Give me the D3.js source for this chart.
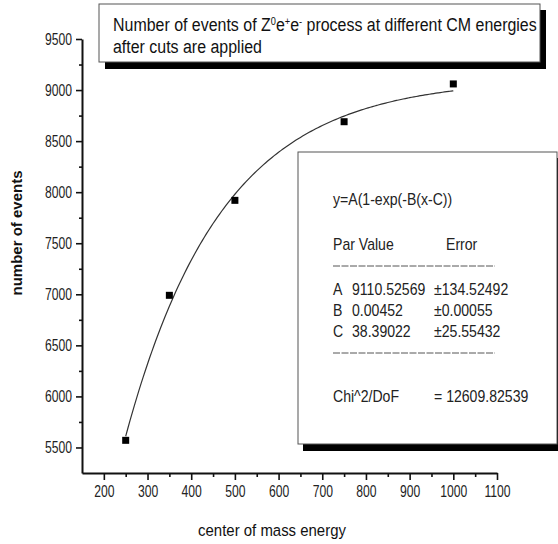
<!DOCTYPE html>
<html>
<head>
<meta charset="utf-8">
<script src="https://cdn.jsdelivr.net/npm/d3@7"></script>
<style>
  html, body { margin: 0; padding: 0; background: #fff; }
  svg { display: block; font-family: "Liberation Sans", Arial, sans-serif; }
</style>
</head>
<body>
<svg id="chart" width="558" height="544"></svg>
<script>
// Measured event counts at each centre-of-mass energy
const energies = [250, 350, 500, 750, 1000];
const eventCounts = [5570, 6990, 7920, 8690, 9060];

// Axis ticks
const xMajorTicks = [200, 300, 400, 500, 600, 700, 800, 900, 1000, 1100];
const xMinorTicks = [250, 350, 450, 550, 650, 750, 850, 950, 1050];
const yMajorTicks = [5500, 6000, 6500, 7000, 7500, 8000, 8500, 9000, 9500];
const yMinorTicks = [5750, 6250, 6750, 7250, 7750, 8250, 8750, 9250];

// Fit parameters for y = A(1 - exp(-B(x - C)))
const fitNames = ["A", "B", "C"];
const fitValues = [9110.52569, 0.00452, 38.39022];
const fitValueText = ["9110.52569", "0.00452", "38.39022"];
const fitErrorText = ["\u00b1134.52492", "\u00b10.00055", "\u00b125.55432"];
const chiText = "= 12609.82539";
const fitRange = [250, 1000];

const svg = d3.select("#chart");

const x = d3.scaleLinear().domain([150, 1100]).range([82, 497]);
const y = d3.scaleLinear().domain([5250, 9500]).range([473, 39]);

const tickSX = 0.76;
const boxSX = 0.88;

// Minor ticks
svg.append("g")
  .attr("transform", "translate(0,473)")
  .call(d3.axisBottom(x).tickValues(xMinorTicks).tickSize(4).tickSizeOuter(0).tickFormat(""))
  .call(g => g.select(".domain").remove())
  .call(g => g.selectAll("line").attr("stroke", "#111").attr("stroke-width", 1.6));
svg.append("g")
  .attr("transform", "translate(82,0)")
  .call(d3.axisLeft(y).tickValues(yMinorTicks).tickSize(3).tickSizeOuter(0).tickFormat(""))
  .call(g => g.select(".domain").remove())
  .call(g => g.selectAll("line").attr("stroke", "#111").attr("stroke-width", 1.6));

// Major axes
const xAxis = svg.append("g")
  .attr("transform", "translate(0,473)")
  .call(d3.axisBottom(x).tickValues(xMajorTicks).tickFormat(d3.format("d"))
    .tickSize(7).tickSizeOuter(0).tickPadding(6));
xAxis.select(".domain").attr("stroke", "#111").attr("stroke-width", 2);
xAxis.selectAll("line").attr("stroke", "#111").attr("stroke-width", 1.6);
xAxis.selectAll("text")
  .attr("font-family", "Liberation Sans, Arial, sans-serif")
  .attr("font-size", 16)
  .attr("fill", "#222")
  .attr("transform", `scale(${tickSX},1)`);

const yAxis = svg.append("g")
  .attr("transform", "translate(82,0)")
  .call(d3.axisLeft(y).tickValues(yMajorTicks).tickFormat(d3.format("d"))
    .tickSize(6).tickSizeOuter(0).tickPadding(4));
yAxis.select(".domain").attr("stroke", "#111").attr("stroke-width", 2);
yAxis.selectAll("line").attr("stroke", "#111").attr("stroke-width", 1.6);
yAxis.selectAll("text")
  .attr("font-family", "Liberation Sans, Arial, sans-serif")
  .attr("font-size", 16)
  .attr("fill", "#222")
  .attr("x", -10 / tickSX)
  .attr("transform", `scale(${tickSX},1)`);

// Axis titles
svg.append("text")
  .attr("transform", `translate(22,233) rotate(-90)`)
  .attr("text-anchor", "middle")
  .attr("font-size", 15)
  .attr("font-weight", "bold")
  .attr("fill", "#111")
  .text("number of events");

svg.append("text")
  .attr("transform", `translate(272,536) scale(0.88,1)`)
  .attr("text-anchor", "middle")
  .attr("font-size", 17)
  .attr("fill", "#111")
  .text("center of mass energy");

// Fit curve
const [A, B, C] = fitValues;
const curveX = d3.range(fitRange[0], fitRange[1] + 0.5, 5);
const line = d3.line()
  .x(d => x(d))
  .y(d => y(A * (1 - Math.exp(-B * (d - C)))))
  .curve(d3.curveMonotoneX);
svg.append("path")
  .datum(curveX)
  .attr("d", line)
  .attr("fill", "none")
  .attr("stroke", "#333")
  .attr("stroke-width", 1.2);

// Data points
svg.append("g")
  .selectAll("rect")
  .data(energies.map((e, i) => [e, eventCounts[i]]))
  .join("rect")
  .attr("x", d => x(d[0]) - 3.5)
  .attr("y", d => y(d[1]) - 3.5)
  .attr("width", 7)
  .attr("height", 7)
  .attr("fill", "#000");

// Fit results box with drop shadow
const fitBox = { x: 298, y: 152, w: 259, h: 292 };
svg.append("rect")
  .attr("x", fitBox.x + 5).attr("y", fitBox.y + 6)
  .attr("width", fitBox.w + 10).attr("height", fitBox.h + 1)
  .attr("fill", "#000");
svg.append("rect")
  .attr("x", fitBox.x).attr("y", fitBox.y)
  .attr("width", fitBox.w).attr("height", fitBox.h)
  .attr("fill", "#fff")
  .attr("stroke", "#555")
  .attr("stroke-width", 1);

const fitText = svg.append("g")
  .attr("font-size", 16)
  .attr("fill", "#222");
const tx = (xx, yy, s) => fitText.append("text")
  .attr("transform", `translate(${xx},${yy}) scale(${boxSX},1)`)
  .text(s);

tx(333, 205, "y=A(1-exp(-B(x-C))");
tx(333, 250, "Par Value");
tx(446, 250, "Error");
fitNames.forEach((n, i) => {
  const yy = 295 + i * 21;
  tx(333, yy, n);
  tx(352, yy, fitValueText[i]);
  tx(434, yy, fitErrorText[i]);
});
tx(333, 402, "Chi^2/DoF");
tx(434, 402, chiText);

[266, 353].forEach(yy => {
  svg.append("line")
    .attr("x1", 333).attr("x2", 495)
    .attr("y1", yy).attr("y2", yy)
    .attr("stroke", "#555")
    .attr("stroke-width", 1)
    .attr("stroke-dasharray", "7,1.5");
});

// Title box with drop shadow
const tb = { x: 99, y: 4, w: 441, h: 58 };
svg.append("rect")
  .attr("x", tb.x + 6).attr("y", tb.y + 6)
  .attr("width", tb.w).attr("height", tb.h + 1)
  .attr("fill", "#000");
svg.append("rect")
  .attr("x", tb.x).attr("y", tb.y)
  .attr("width", tb.w).attr("height", tb.h)
  .attr("fill", "#fff")
  .attr("stroke", "#555")
  .attr("stroke-width", 1);

const title1 = svg.append("text")
  .attr("font-size", 19)
  .attr("fill", "#111");
const parts = [
  ["Number of events of Z", null],
  ["0", "sup"],
  ["e", null],
  ["+", "sup"],
  ["e", null],
  ["-", "sup"],
  [" process at different CM energies", null]
];
parts.forEach(([s, kind]) => {
  const t = title1.append("tspan").text(s);
  if (kind === "sup") t.attr("baseline-shift", "7px").attr("font-size", 11);
});
const title2 = svg.append("text")
  .attr("font-size", 19)
  .attr("fill", "#111")
  .text("after cuts are applied");

// Fit title width to the box interior
const w1 = title1.node().getComputedTextLength();
const sx = 424 / w1;
title1.attr("transform", `translate(113,31) scale(${sx},1)`);
title2.attr("transform", `translate(113,53) scale(${sx},1)`);
</script>
</body>
</html>
